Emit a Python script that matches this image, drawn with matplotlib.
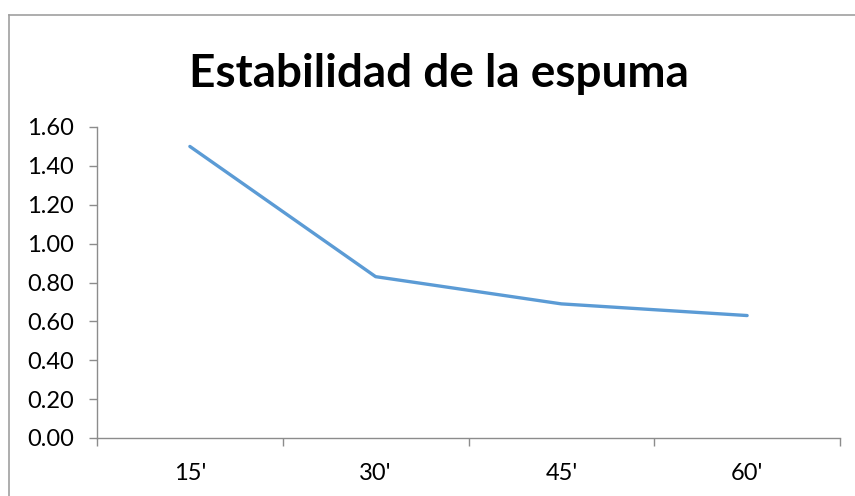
import matplotlib.pyplot as plt
from matplotlib.lines import Line2D

# foam stability readings per time interval
tiempos = ["15'", "30'", "45'", "60'"]
estabilidad = [1.50, 0.83, 0.69, 0.63]
y_ticks = [0.0, 0.2, 0.4, 0.6, 0.8, 1.0, 1.2, 1.4, 1.6]

plt.rcParams['font.family'] = ['Lato', 'DejaVu Sans']

W, H = 855, 496
fig = plt.figure(figsize=(W / 100, H / 100), dpi=100)
ax = fig.add_axes([97 / W, 1 - 438 / H, (840 - 97) / W, (438 - 127) / H])

pos = list(range(1, len(tiempos) + 1))
ax.plot(pos, estabilidad, color='#5B9BD5', linewidth=2.4, solid_capstyle='round')

ax.set_xlim(0.5, len(tiempos) + 0.5)
ax.set_ylim(0, 1.6)
ax.set_yticks(y_ticks)
ax.set_yticklabels([f'{v:.2f}' for v in y_ticks])
ax.set_xticks(pos)
ax.set_xticklabels(tiempos)
ax.set_xticks([p - 0.5 for p in pos] + [len(tiempos) + 0.5], minor=True)

axis_grey = '#8C8C8C'
for s in ['top', 'right']:
    ax.spines[s].set_visible(False)
for s in ['left', 'bottom']:
    ax.spines[s].set_color(axis_grey)
    ax.spines[s].set_linewidth(1.0)

ax.tick_params(axis='y', direction='out', length=5.5, width=1.0, color=axis_grey,
               labelsize=17, pad=11, labelcolor='black')
ax.tick_params(axis='x', which='major', length=0, labelsize=17, pad=18, labelcolor='black')
ax.tick_params(axis='x', which='minor', direction='out', length=6, width=1.0, color=axis_grey)

fig.text(438.5 / W, 1 - 87 / H, 'Estabilidad de la espuma', ha='center', va='baseline',
         fontsize=33, fontweight='bold')

# chart frame (top and left edges visible)
fig.add_artist(Line2D([9 / W, 1.0], [1 - 15 / H, 1 - 15 / H], transform=fig.transFigure,
                      color='#A0A0A0', linewidth=1.2))
fig.add_artist(Line2D([9 / W, 9 / W], [0.0, 1 - 15 / H], transform=fig.transFigure,
                      color='#A0A0A0', linewidth=1.2))

fig.savefig('out.png', dpi=100)
